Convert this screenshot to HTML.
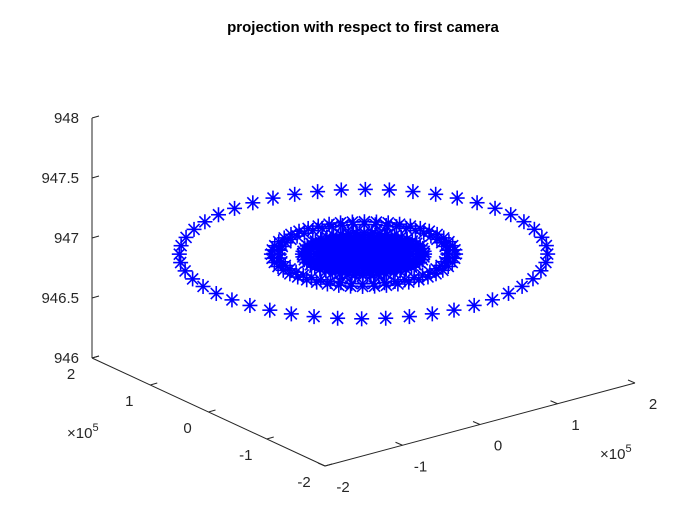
<!DOCTYPE html>
<html><head><meta charset="utf-8"><style>
html,body{margin:0;padding:0;background:#fff;}
svg{display:block;font-family:"Liberation Sans",Arial,sans-serif;}
</style></head><body>
<svg id="chart" width="700" height="525" viewBox="0 0 700 525">
<rect width="700" height="525" fill="#fff"/>
<text x="363" y="32" text-anchor="middle" font-size="15" font-weight="bold" fill="#000">projection with respect to first camera</text>
<g id="axes"></g>
<g id="marks"></g>
</svg>
<script>
// data (x,y in units of 1e5)
const ringRadii = [1.9, 0.95, 0.87, 0.63, 0.56, 0.48, 0.41, 0.34, 0.27, 0.2, 0.13, 0.06];
const pointsPerRing = [48, 48, 48, 48, 48, 48, 48, 48, 48, 48, 48, 48];
const ringZ = [946.97, 946.97, 946.97, 946.97, 946.97, 946.97, 946.97, 946.97, 946.97, 946.97, 946.97, 946.97];
const xTicks = [-2, -1, 0, 1, 2];
const yTicks = [-2, -1, 0, 1, 2];
const zTicks = [946, 946.5, 947, 947.5, 948];
const zTickLabels = ["946", "946.5", "947", "947.5", "948"];

const NS = "http://www.w3.org/2000/svg";
const corner = [325, 466];
const ex = [310/4, -83/4], ey = [-233/4, -108/4], ez = -120;
function proj(x, y, z) {
  return [corner[0] + (x+2)*ex[0] + (y+2)*ey[0],
          corner[1] + (x+2)*ex[1] + (y+2)*ey[1] + (z-946)*ez];
}
const axes = document.getElementById('axes');
const marks = document.getElementById('marks');
function line(p, a, b, c, d, w, col) {
  const l = document.createElementNS(NS, 'line');
  l.setAttribute('x1', a); l.setAttribute('y1', b); l.setAttribute('x2', c); l.setAttribute('y2', d);
  l.setAttribute('stroke', col); l.setAttribute('stroke-width', w);
  p.appendChild(l); return l;
}
function text(p, x, y, s, anchor) {
  const t = document.createElementNS(NS, 'text');
  t.setAttribute('x', x); t.setAttribute('y', y); t.setAttribute('font-size', '15');
  t.setAttribute('fill', '#262626'); t.setAttribute('text-anchor', anchor || 'middle');
  t.textContent = s; p.appendChild(t); return t;
}
let a = proj(-2, 2, 946), b = proj(-2, 2, 948);
let el = line(axes, a[0], a[1], b[0], b[1], 1, '#262626');
 
a = proj(-2, 2, 946); b = proj(-2, -2, 946);
el = line(axes, a[0], a[1], b[0], b[1], 1, '#262626');
 
a = proj(-2, -2, 946); b = proj(2, -2, 946);
el = line(axes, a[0], a[1], b[0], b[1], 1, '#262626');
 
zTicks.forEach((z, i) => {
  const p = proj(-2, 2, z);
  const t = line(axes, p[0], p[1], p[0]+7, p[1]-2, 1, '#262626');
   
  const lb = text(axes, p[0]-13, p[1]+5, zTickLabels[i], 'end');
   
});
yTicks.forEach(y => {
  const p = proj(-2, y, 946);
  const t = line(axes, p[0], p[1], p[0]+7, p[1]-2, 1, '#262626');
   
  const lb = text(axes, p[0]-21, p[1]+21, String(y));
   
});
xTicks.forEach(x => {
  const p = proj(x, -2, 946);
  const t = line(axes, p[0], p[1], p[0]-7, p[1]-3, 1, '#262626');
   
  const lb = text(axes, p[0]+18, p[1]+26, String(x));
   
});
function expo(x, y, name) {
  const t = document.createElementNS(NS, 'text');
  t.setAttribute('x', x); t.setAttribute('y', y); t.setAttribute('font-size', '15'); t.setAttribute('fill', '#262626');
  t.innerHTML = '×10<tspan font-size="11" dy="-7">5</tspan>';
   
  axes.appendChild(t);
}
expo(67, 438, 'y-exponent-label');
expo(600, 459, 'x-exponent-label');
ringRadii.forEach((r, ri) => {
  const n = pointsPerRing[ri];
  for (let k = 0; k < n; k++) {
    const ang = 2 * Math.PI * k / n;
    const p = proj(r*Math.cos(ang), r*Math.sin(ang), ringZ[ri]);
    const g = document.createElementNS(NS, 'g');
    
    
    const s = 7.5, d = 5.5;
    line(g, p[0]-s, p[1], p[0]+s, p[1], 1.6, '#0000ff');
    line(g, p[0], p[1]-s, p[0], p[1]+s, 1.6, '#0000ff');
    line(g, p[0]-d, p[1]-d, p[0]+d, p[1]+d, 1.6, '#0000ff');
    line(g, p[0]-d, p[1]+d, p[0]+d, p[1]-d, 1.6, '#0000ff');
    marks.appendChild(g);
  }
});
</script>
</body></html>
